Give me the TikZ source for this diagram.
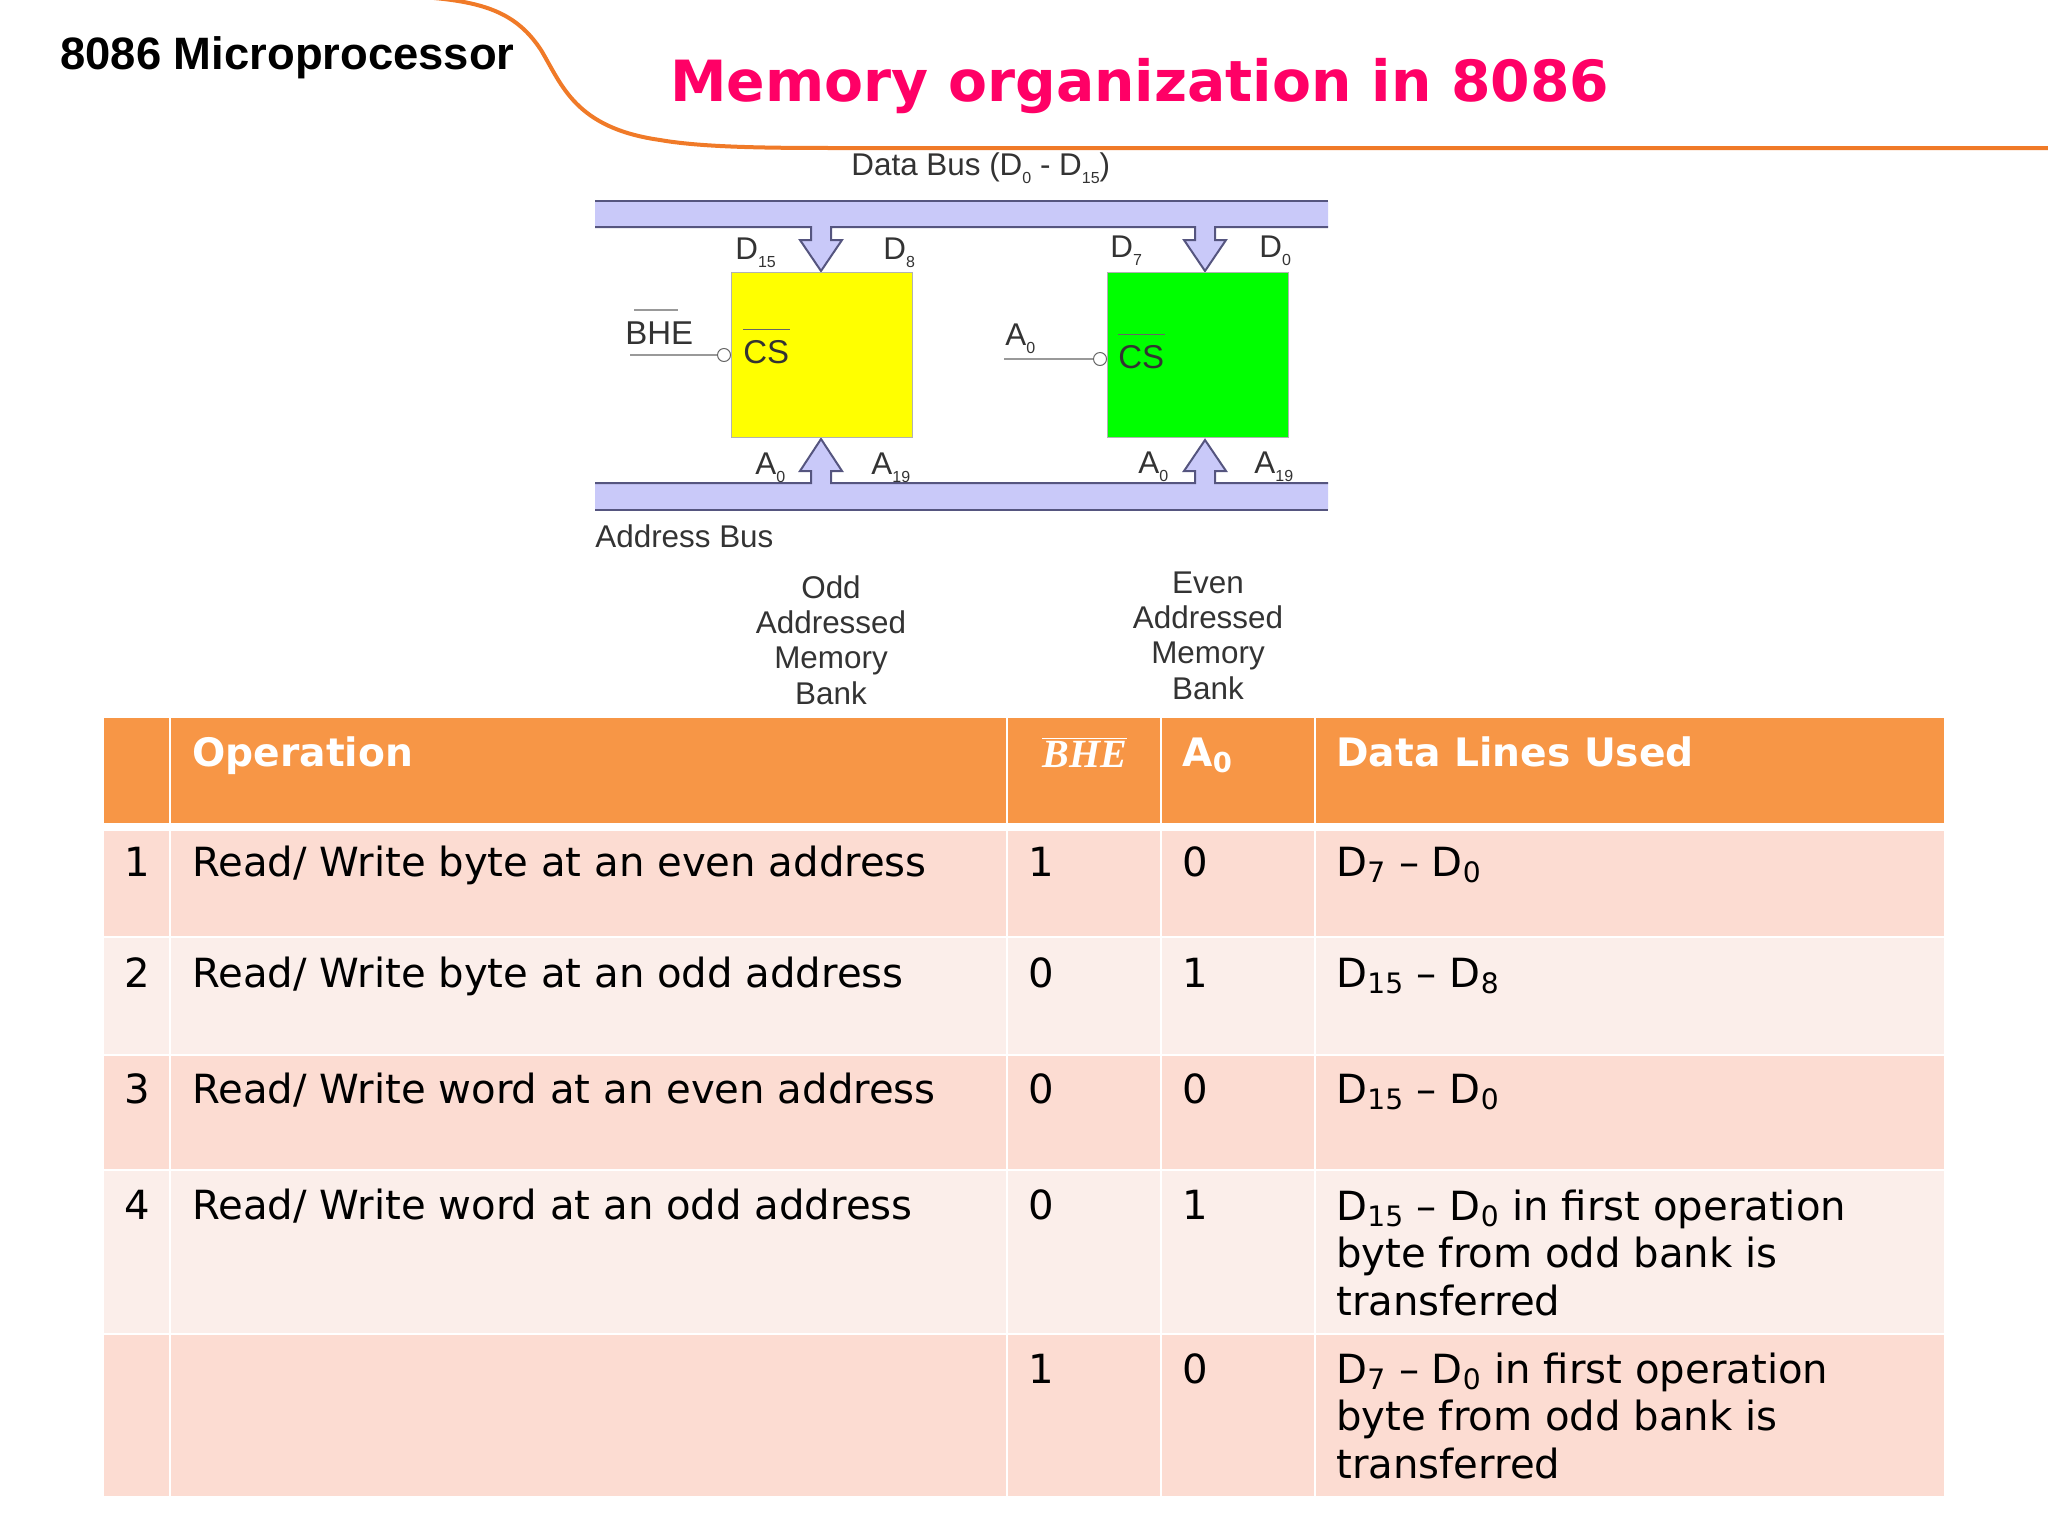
\documentclass[tikz,border=0pt]{standalone}
\usepackage{fontspec}
\setmainfont{DejaVu Sans}
\newfontfamily\armfont{Liberation Sans}
\newfontfamily\mathserif{Liberation Serif}
\newcommand{\pinsub}[1]{\raisebox{-0.5ex}{\fontsize{8}{8}\selectfont #1}}
\definecolor{swoosh}{HTML}{F07A28}
\definecolor{titlepink}{HTML}{FF0066}
\definecolor{busfill}{HTML}{C9C9F9}
\definecolor{busline}{HTML}{55557F}
\definecolor{headfill}{HTML}{F79646}
\definecolor{rowdark}{HTML}{FCDCD2}
\definecolor{rowlight}{HTML}{FBEEEA}
\definecolor{oddfill}{HTML}{FFFF00}
\definecolor{evenfill}{HTML}{00FF00}
\begin{document}
\begin{tikzpicture}[
	x = 0.5pt, y = -0.5pt,
	every node/.style = {inner sep=0pt},
	lbl/.style = {anchor=base west, font=\armfont\fontsize{15.7}{18}\selectfont, text=black!80},
	cslbl/.style = {lbl, font=\armfont\fontsize{16.5}{18}\selectfont},
	bank/.style = {anchor=base, align=center, font=\armfont\fontsize{15.7}{17.6}\selectfont, text=black!80},
	chip/.style = {draw=black!30, line width=0.5pt, minimum width=90.5pt, minimum height=82.5pt, anchor=north west},
	bubble/.style = {circle, draw=black!60, fill=white, line width=0.5pt, minimum size=6.5pt},
	wire/.style = {draw=black!40, line width=0.7pt},
	busedge/.style = {draw=busline, line width=1pt},
	hdr/.style = {anchor=base west, font=\bfseries\fontsize{19.6}{24}\selectfont, text=white},
	body/.style = {anchor=base west, align=left, font=\fontsize{20.1}{23.85}\selectfont, text=black}
	]
	\useasboundingbox (0,0) rectangle (2048,1536);

	% top of the slide
	\draw[swoosh, line width=2pt] (434,-2) .. controls (488,3) and (518,15) .. (541,50)
		.. controls (562,85) and (575,128) .. (660,140)
		.. controls (700,147) and (760,148) .. (830,148) -- (2048,148);
	\node[anchor=base west, font=\armfont\bfseries\fontsize{22.7}{26}\selectfont] (slidename) at (60,69) {8086 Microprocessor};
	\node[anchor=base west, font=\bfseries\fontsize{28.4}{34}\selectfont, text=titlepink] (title) at (670,102) {Memory organization in 8086};

	% buses
	\fill[busfill] (595,201) -- (1328,201) -- (1328,227) -- (1215,227) -- (1215,240) -- (1226,240) -- (1205,271)
		-- (1184,240) -- (1195,240) -- (1195,227) -- (831,227) -- (831,240) -- (842,240) -- (821,271)
		-- (800,240) -- (811,240) -- (811,227) -- (595,227) -- cycle;
	\draw[busedge] (595,201) -- (1328,201);
	\draw[busedge] (595,227) -- (811,227) -- (811,240) -- (800,240) -- (821,271) -- (842,240) -- (831,240) -- (831,227)
		-- (1195,227) -- (1195,240) -- (1184,240) -- (1205,271) -- (1226,240) -- (1215,240) -- (1215,227) -- (1328,227);
	\fill[busfill] (595,510) -- (1328,510) -- (1328,483) -- (1215,483) -- (1215,471) -- (1226,471) -- (1205,440)
		-- (1184,471) -- (1195,471) -- (1195,483) -- (831,483) -- (831,471) -- (842,471) -- (821,439)
		-- (800,471) -- (811,471) -- (811,483) -- (595,483) -- cycle;
	\draw[busedge] (595,510) -- (1328,510);
	\draw[busedge] (595,483) -- (811,483) -- (811,471) -- (800,471) -- (821,439) -- (842,471) -- (831,471) -- (831,483)
		-- (1195,483) -- (1195,471) -- (1184,471) -- (1205,440) -- (1226,471) -- (1215,471) -- (1215,483) -- (1328,483);

	% memory banks
	\node[chip, fill=oddfill] (oddchip) at (731,272) {};
	\node[chip, fill=evenfill] (evenchip) at (1107,272) {};
	\node[bubble] (oddcs) at (724,355) {};
	\node[bubble] (evencs) at (1100,359) {};
	\coordinate (bhein) at (630,355);
	\coordinate (a0in) at (1004,359);
	\draw[wire] (bhein) -- (oddcs);
	\draw[wire] (a0in) -- (evencs);

	\node[lbl] (databus) at (851,175) {Data Bus (D\pinsub{0} - D\pinsub{15})};
	\node[lbl] (addrbus) at (595,547) {Address Bus};
	\node[lbl] (d15) at (735,259) {D\pinsub{15}};
	\node[lbl] (d8) at (883,259) {D\pinsub{8}};
	\node[lbl] (d7) at (1110,257) {D\pinsub{7}};
	\node[lbl] (d0) at (1259,257) {D\pinsub{0}};
	\node[lbl] (a0odd) at (755,474) {A\pinsub{0}};
	\node[lbl] (a19odd) at (871,474) {A\pinsub{19}};
	\node[lbl] (a0even) at (1138,473) {A\pinsub{0}};
	\node[lbl] (a19even) at (1254,473) {A\pinsub{19}};
	\node[lbl] (a0sel) at (1005,345) {A\pinsub{0}};
	\node[cslbl] (bhe) at (625,344) {BHE};
	\node[cslbl] (csodd) at (743,363) {CS};
	\node[cslbl] (cseven) at (1118,368) {CS};
	\draw[wire] ([xshift=4.5pt,yshift=5.5pt]bhe.north west) -- ([xshift=-8pt,yshift=5.5pt]bhe.north east);
	\draw[black!60, line width=0.5pt] ([yshift=5pt]csodd.north west) -- ([yshift=5pt]csodd.north east);
	\draw[black!60, line width=0.5pt] ([yshift=5pt]cseven.north west) -- ([yshift=5pt]cseven.north east);

	\node[bank] (oddname) at (831,704) {Odd\\Addressed\\Memory\\Bank};
	\node[bank] (evenname) at (1208,699) {Even\\Addressed\\Memory\\Bank};

	% table cells
	\foreach \ya/\yb/\rowcol in {718/823/headfill, 831/936/rowdark, 938/1054/rowlight, 1056/1169/rowdark, 1171/1333/rowlight, 1335/1496/rowdark}
		\foreach \xa/\xb in {104/169, 171/1006, 1008/1160, 1162/1314, 1316/1944}
			\fill[\rowcol] (\xa,\ya) rectangle (\xb,\yb);

	\node[hdr] (hop) at (192,766) {Operation};
	\node[hdr, font=\mathserif\bfseries\itshape\fontsize{20}{24}\selectfont] (hbhe) at (1042,767) {$\overline{\mbox{BHE}}$};
	\node[hdr] (ha0) at (1182,766) {A\textsubscript{0}};
	\node[hdr] (hdl) at (1336,766) {Data Lines Used};

	\node[body] (n1) at (124,876) {1};
	\node[body] (op1) at (192,876) {Read/ Write byte at an even address};
	\node[body] (bhe1) at (1028,876) {1};
	\node[body] (a1) at (1182,876) {0};
	\node[body] (dl1) at (1336,876) {D\textsubscript{7} – D\textsubscript{0}};

	\node[body] (n2) at (124,987) {2};
	\node[body] (op2) at (192,987) {Read/ Write byte at an odd address};
	\node[body] (bhe2) at (1028,987) {0};
	\node[body] (a2) at (1182,987) {1};
	\node[body] (dl2) at (1336,987) {D\textsubscript{15} – D\textsubscript{8}};

	\node[body] (n3) at (124,1103) {3};
	\node[body] (op3) at (192,1103) {Read/ Write word at an even address};
	\node[body] (bhe3) at (1028,1103) {0};
	\node[body] (a3) at (1182,1103) {0};
	\node[body] (dl3) at (1336,1103) {D\textsubscript{15} – D\textsubscript{0}};

	\node[body] (n4) at (124,1219) {4};
	\node[body] (op4) at (192,1219) {Read/ Write word at an odd address};
	\node[body] (bhe4) at (1028,1219) {0};
	\node[body] (a4) at (1182,1219) {1};
	\node[body] (dl4) at (1336,1315.5) {D\textsubscript{15} – D\textsubscript{0} in first operation\\byte from odd bank is\\transferred};

	\node[body] (bhe5) at (1028,1383) {1};
	\node[body] (a5) at (1182,1383) {0};
	\node[body] (dl5) at (1336,1478.5) {D\textsubscript{7} – D\textsubscript{0} in first operation\\byte from odd bank is\\transferred};
\end{tikzpicture}
\end{document}
